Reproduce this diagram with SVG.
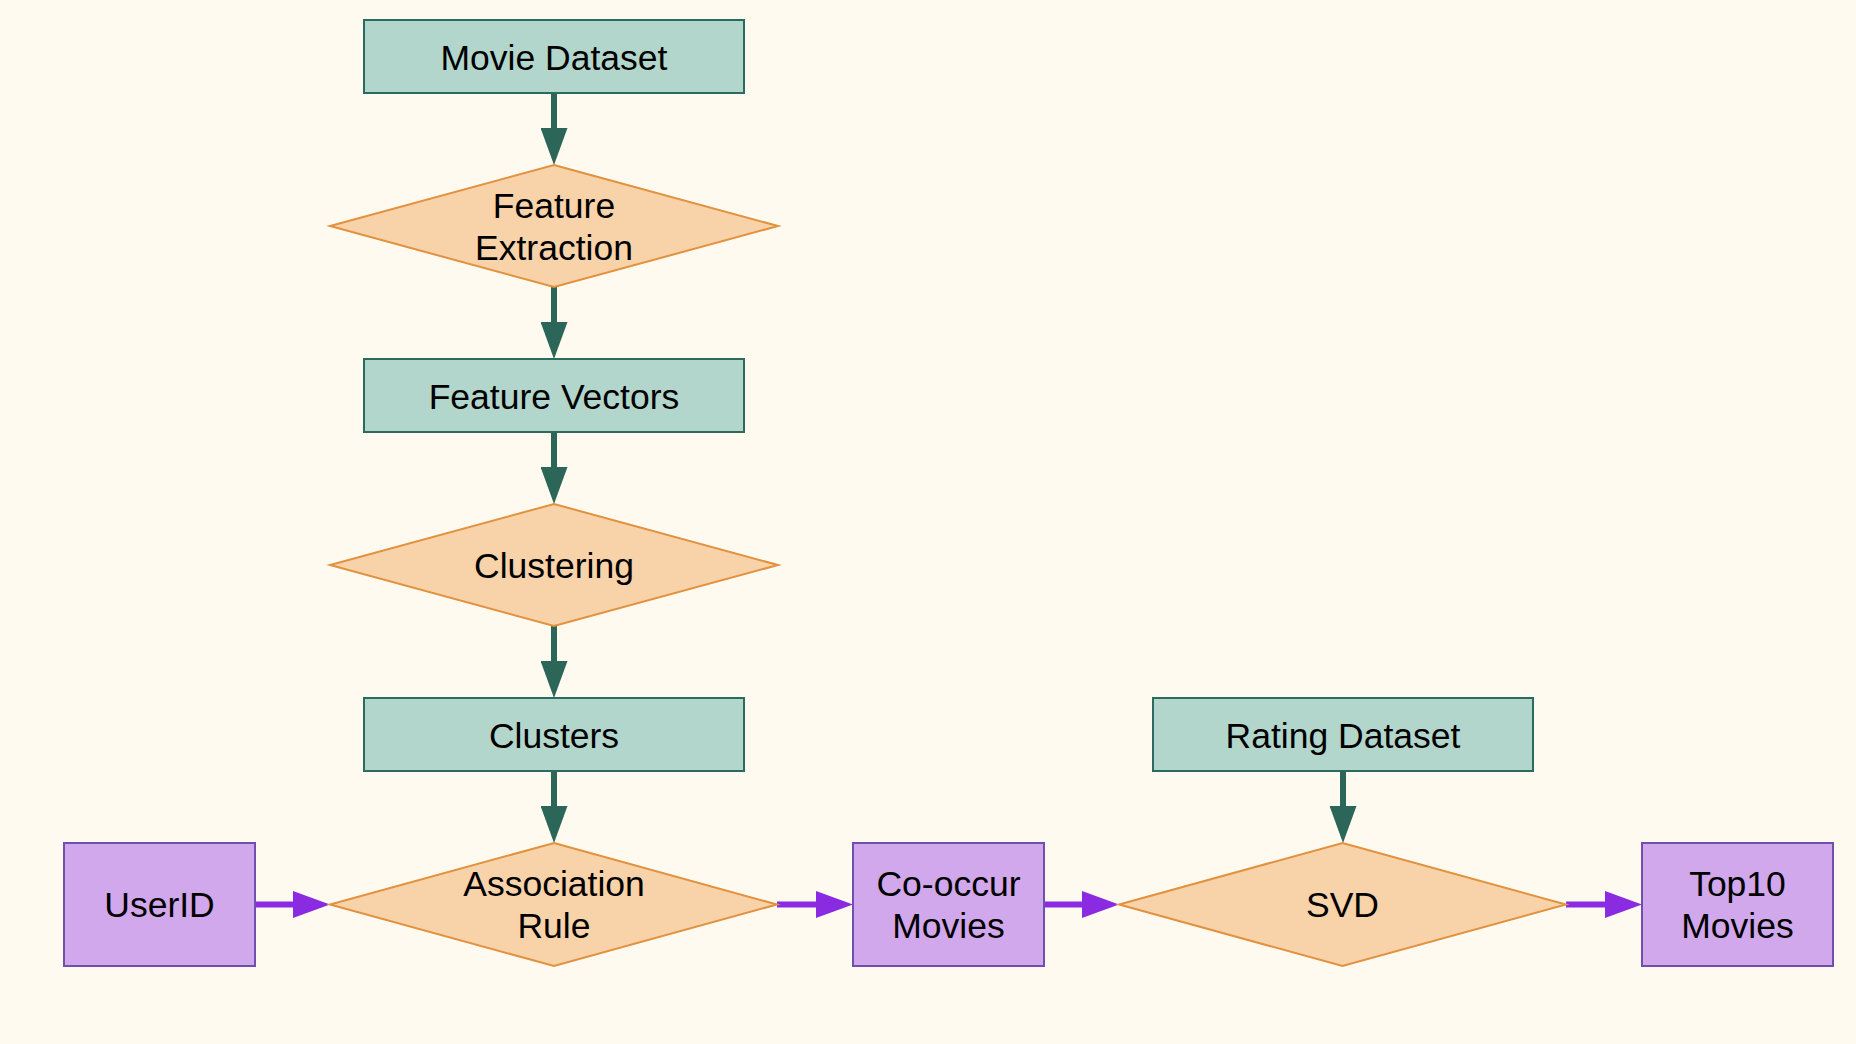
<svg xmlns="http://www.w3.org/2000/svg" width="1856" height="1044" viewBox="0 0 1856 1044">
<style>
.bg{fill:#FFFAF0}
.data{fill:#B3D6CC;stroke:#2B6B5E;stroke-width:2}
.proc{fill:#F8D2A8;stroke:#E2913E;stroke-width:2}
.io{fill:#D1A8EB;stroke:#6F4FB0;stroke-width:2}
text{font-family:"Liberation Sans",Arial,sans-serif;font-size:35.5px;fill:#000;text-anchor:middle}
.et{stroke:#2B6658;stroke-width:6;fill:none}
.ep{stroke:#8A2BE2;stroke-width:6;fill:none}
</style>
<defs>
<marker id="ahT" markerUnits="userSpaceOnUse" markerWidth="37" markerHeight="27" refX="17" refY="13.5" orient="auto" viewBox="0 0 37 27">
<path d="M0,0 L37,13.5 L0,27 z" fill="#2B6658"/>
</marker>
<marker id="ahP" markerUnits="userSpaceOnUse" markerWidth="37" markerHeight="27" refX="17" refY="13.5" orient="auto" viewBox="0 0 37 27">
<path d="M0,0 L37,13.5 L0,27 z" fill="#8A2BE2"/>
</marker>
</defs>
<rect class="bg" x="0" y="0" width="1856" height="1044"/>
<g id="connectors">
<line class="et" x1="554" y1="93" x2="554" y2="145" marker-end="url(#ahT)"/>
<line class="et" x1="554" y1="287" x2="554" y2="339" marker-end="url(#ahT)"/>
<line class="et" x1="554" y1="432" x2="554" y2="484" marker-end="url(#ahT)"/>
<line class="et" x1="554" y1="626" x2="554" y2="678" marker-end="url(#ahT)"/>
<line class="et" x1="554" y1="771" x2="554" y2="823" marker-end="url(#ahT)"/>
<line class="et" x1="1343" y1="771" x2="1343" y2="823" marker-end="url(#ahT)"/>
<line class="ep" x1="255" y1="904.5" x2="310" y2="904.5" marker-end="url(#ahP)"/>
<line class="ep" x1="777" y1="904.5" x2="833" y2="904.5" marker-end="url(#ahP)"/>
<line class="ep" x1="1044" y1="904.5" x2="1099" y2="904.5" marker-end="url(#ahP)"/>
<line class="ep" x1="1566" y1="904.5" x2="1622" y2="904.5" marker-end="url(#ahP)"/>
</g>
<g id="movie_dataset">
<rect class="data" x="364" y="20" width="380" height="73"/>
<text x="554" y="70">Movie Dataset</text>
</g>
<g id="feature_extraction">
<polygon class="proc" points="554,165 778,226 554,287 330,226"/>
<text x="554" y="218">Feature</text>
<text x="554" y="260">Extraction</text>
</g>
<g id="feature_vectors">
<rect class="data" x="364" y="359" width="380" height="73"/>
<text x="554" y="409">Feature Vectors</text>
</g>
<g id="clustering">
<polygon class="proc" points="554,504 778,565 554,626 330,565"/>
<text x="554" y="578">Clustering</text>
</g>
<g id="clusters">
<rect class="data" x="364" y="698" width="380" height="73"/>
<text x="554" y="748">Clusters</text>
</g>
<g id="rating_dataset">
<rect class="data" x="1153" y="698" width="380" height="73"/>
<text x="1343" y="748">Rating Dataset</text>
</g>
<g id="userid">
<rect class="io" x="64" y="843" width="191" height="123"/>
<text x="159.5" y="917">UserID</text>
</g>
<g id="association_rule">
<polygon class="proc" points="554,843 777,904.5 554,966 330,904.5"/>
<text x="554" y="896">Association</text>
<text x="554" y="938">Rule</text>
</g>
<g id="cooccur_movies">
<rect class="io" x="853" y="843" width="191" height="123"/>
<text x="948.5" y="896">Co-occur</text>
<text x="948.5" y="938">Movies</text>
</g>
<g id="svd">
<polygon class="proc" points="1342.5,843 1566,904.5 1342.5,966 1119,904.5"/>
<text x="1342.5" y="917">SVD</text>
</g>
<g id="top10_movies">
<rect class="io" x="1642" y="843" width="191" height="123"/>
<text x="1737.5" y="896">Top10</text>
<text x="1737.5" y="938">Movies</text>
</g>
</svg>
